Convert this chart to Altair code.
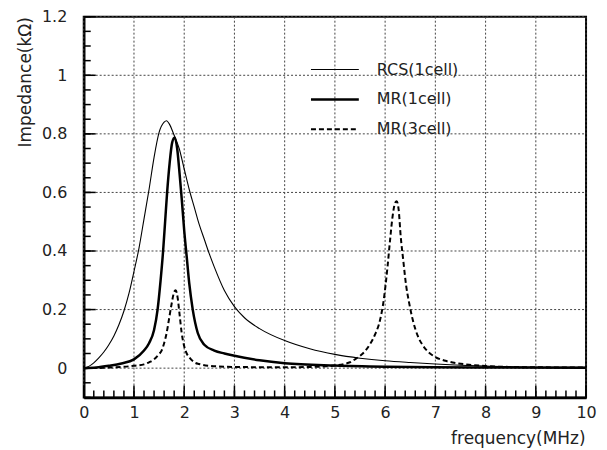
import altair as alt
import pandas as pd

# ---------------- data ----------------
rcs_f = [0, 0.1, 0.2, 0.3, 0.4, 0.5, 0.6, 0.7, 0.8, 0.9, 1.0, 1.1, 1.2, 1.3, 1.4, 1.5,
         1.6, 1.65, 1.7, 1.8, 1.9, 2.0, 2.1, 2.2, 2.3, 2.4, 2.5, 2.6, 2.8, 3.0, 3.2,
         3.5, 4.0, 4.5, 5.0, 5.5, 6.0, 6.5, 7.0, 7.5, 8.0, 9.0, 10.0]
rcs_z = [0, 0.006, 0.018, 0.035, 0.055, 0.08, 0.11, 0.148, 0.195, 0.255, 0.33, 0.41,
         0.51, 0.61, 0.72, 0.805, 0.84, 0.845, 0.835, 0.795, 0.75, 0.68, 0.61, 0.55,
         0.49, 0.44, 0.39, 0.345, 0.265, 0.21, 0.172, 0.135, 0.094, 0.066, 0.047, 0.034,
         0.025, 0.019, 0.014, 0.01, 0.007, 0.004, 0.003]

mr1_f = [0, 0.25, 0.5, 0.75, 1.0, 1.2, 1.3, 1.4, 1.47, 1.53, 1.58, 1.62, 1.66, 1.71,
         1.76, 1.81, 1.86, 1.91, 1.95, 2.0, 2.05, 2.1, 2.17, 2.27, 2.4, 2.6, 2.8, 3.0,
         3.5, 4.0, 5.0, 6.0, 7.0, 8.0, 10.0]
mr1_z = [0, 0.002, 0.008, 0.016, 0.03, 0.06, 0.085, 0.13, 0.2, 0.3, 0.4, 0.5, 0.6,
         0.7, 0.77, 0.788, 0.75, 0.66, 0.58, 0.47, 0.38, 0.29, 0.2, 0.12, 0.08, 0.06,
         0.05, 0.042, 0.027, 0.017, 0.009, 0.005, 0.003, 0.002, 0.001]

mr3_f = [0, 0.5, 1.0, 1.2, 1.3, 1.4, 1.5, 1.55, 1.6, 1.65, 1.7, 1.75, 1.8, 1.83, 1.87,
         1.91, 1.95, 2.0, 2.05, 2.1, 2.2, 2.3, 2.5, 3.0, 4.0, 4.5, 4.8, 5.0, 5.2, 5.3,
         5.4, 5.5, 5.6, 5.7, 5.8, 5.9, 5.97, 6.05, 6.1, 6.15, 6.2, 6.23, 6.27, 6.31,
         6.36, 6.42, 6.47, 6.55, 6.65, 6.75, 6.86, 7.0, 7.2, 7.46, 7.72, 8.0, 8.5, 9.0,
         10.0]
mr3_z = [0, 0.002, 0.008, 0.013, 0.02, 0.03, 0.048, 0.06, 0.085, 0.12, 0.17, 0.22,
         0.26, 0.266, 0.24, 0.18, 0.12, 0.075, 0.05, 0.037, 0.02, 0.014, 0.008, 0.004,
         0.003, 0.004, 0.006, 0.009, 0.015, 0.02, 0.03, 0.042, 0.058, 0.082, 0.115,
         0.165, 0.23, 0.35, 0.44, 0.52, 0.565, 0.57, 0.54, 0.45, 0.37, 0.28, 0.23,
         0.165, 0.11, 0.078, 0.055, 0.038, 0.025, 0.016, 0.011, 0.007, 0.004, 0.003,
         0.002]

series_names = ["RCS(1cell)", "MR(1cell)", "MR(3cell)"]

x_major = [0, 1, 2, 3, 4, 5, 6, 7, 8, 9, 10]
x_minor = [i / 5 for i in range(0, 51)]
y_major = [0, 0.2, 0.4, 0.6, 0.8, 1.0, 1.2]
y_minor = [round(-0.1 + i * 0.05, 3) for i in range(0, 27)]

# ---------------- layout / style ----------------
W, H = 504, 382
FONT = "DejaVu Sans"
TXT = "#222222"
GRID = "#444444"

frames = []
for name, fs, zs in zip(series_names, [rcs_f, mr1_f, mr3_f], [rcs_z, mr1_z, mr3_z]):
    frames.append(pd.DataFrame({"f": fs, "z": zs, "series": name}))
df = pd.concat(frames, ignore_index=True)

xscale = alt.Scale(domain=[0, 10], nice=False, zero=False)
yscale = alt.Scale(domain=[-0.1, 1.2], nice=False, zero=False)

x_axis = alt.Axis(
    values=x_major, format="d", grid=False, ticks=False, tickSize=0,
    domain=True, domainColor="black", domainWidth=2.5,
    labelFont=FONT, labelFontSize=16, labelColor=TXT,
    labelPadding=7, labelFlush=False,
    title="frequency(MHz)", titleFont=FONT, titleFontSize=17,
    titleFontWeight="normal", titleColor=TXT, titleX=W - 1, titleY=46,
    titleAlign="right", titleBaseline="alphabetic",
)
y_axis = alt.Axis(
    values=y_major, format="~g", grid=False, ticks=False, tickSize=0,
    domain=True, domainColor="black", domainWidth=2.5,
    labelFont=FONT, labelFontSize=16, labelColor=TXT,
    labelPadding=17, labelFlush=False,
    title="Impedance(kΩ)", titleFont=FONT, titleFontSize=17,
    titleFontWeight="normal", titleColor=TXT, titleX=-58, titleY=0,
    titleAngle=270, titleAlign="right", titleBaseline="middle",
)

X = lambda field: alt.X(field, scale=xscale, axis=x_axis)
Y = lambda field: alt.Y(field, scale=yscale, axis=y_axis)

# dotted grid (full-span rules)
x_grid = alt.Chart(pd.DataFrame({"f": x_major})).mark_rule(
    color=GRID, strokeWidth=1, strokeDash=[2, 2]).encode(
    x=X("f:Q"), y=alt.value(0), y2=alt.value(H))
y_grid = alt.Chart(pd.DataFrame({"z": y_major})).mark_rule(
    color=GRID, strokeWidth=1, strokeDash=[2, 2]).encode(
    y=Y("z:Q"), x=alt.value(0), x2=alt.value(W))

base = alt.Chart(df)

def curve(name, width, dash=None):
    kw = dict(color="black", strokeWidth=width, interpolate="monotone")
    if dash:
        kw["strokeDash"] = dash
    return base.transform_filter(alt.datum.series == name).mark_line(**kw).encode(
        x=X("f:Q"), y=Y("z:Q"))

l_rcs = curve("RCS(1cell)", 1.1)
l_mr1 = curve("MR(1cell)", 2.5)
l_mr3 = curve("MR(3cell)", 2, dash=[5, 3])

# inward ticks
xt_minor = alt.Chart(pd.DataFrame({"f": x_minor})).mark_rule(color="black", strokeWidth=1.5).encode(
    x=X("f:Q"), y=alt.value(H), y2=alt.value(H - 7))
xt_major = alt.Chart(pd.DataFrame({"f": x_major})).mark_rule(color="black", strokeWidth=1.5).encode(
    x=X("f:Q"), y=alt.value(H), y2=alt.value(H - 12))
yt_minor = alt.Chart(pd.DataFrame({"z": y_minor})).mark_rule(color="black", strokeWidth=1.5).encode(
    y=Y("z:Q"), x=alt.value(0), x2=alt.value(7))
yt_major = alt.Chart(pd.DataFrame({"z": y_major})).mark_rule(color="black", strokeWidth=1.5).encode(
    y=Y("z:Q"), x=alt.value(0), x2=alt.value(12))

# legend
leg_y = [53, 83, 113]
leg_styles = [(1.1, None), (2.5, None), (2, [5, 3])]
legend_layers = []
for name, ly, (w, dash) in zip(series_names, leg_y, leg_styles):
    ld = alt.Chart(pd.DataFrame({"label": [name]}))
    kw = dict(color="black", strokeWidth=w)
    if dash:
        kw["strokeDash"] = dash
    legend_layers.append(ld.mark_rule(**kw).encode(
        x=alt.value(228), x2=alt.value(276), y=alt.value(ly)))
    legend_layers.append(ld.mark_text(align="left", baseline="middle", font=FONT,
                                      fontSize=16, color=TXT).encode(
        x=alt.value(294), y=alt.value(ly), text="label:N"))

chart = alt.layer(
    x_grid, y_grid, l_rcs, l_mr1, l_mr3, xt_minor, xt_major, yt_minor, yt_major,
    *legend_layers
).properties(
    width=W, height=H,
    background="white",
    autosize=alt.AutoSizeParams(type="none"),
    padding={"left": 76, "top": 8, "right": 13, "bottom": 50},
).configure_view(stroke="black", strokeWidth=2)

chart.save("out.html", embed_options={"renderer": "svg", "actions": False})
